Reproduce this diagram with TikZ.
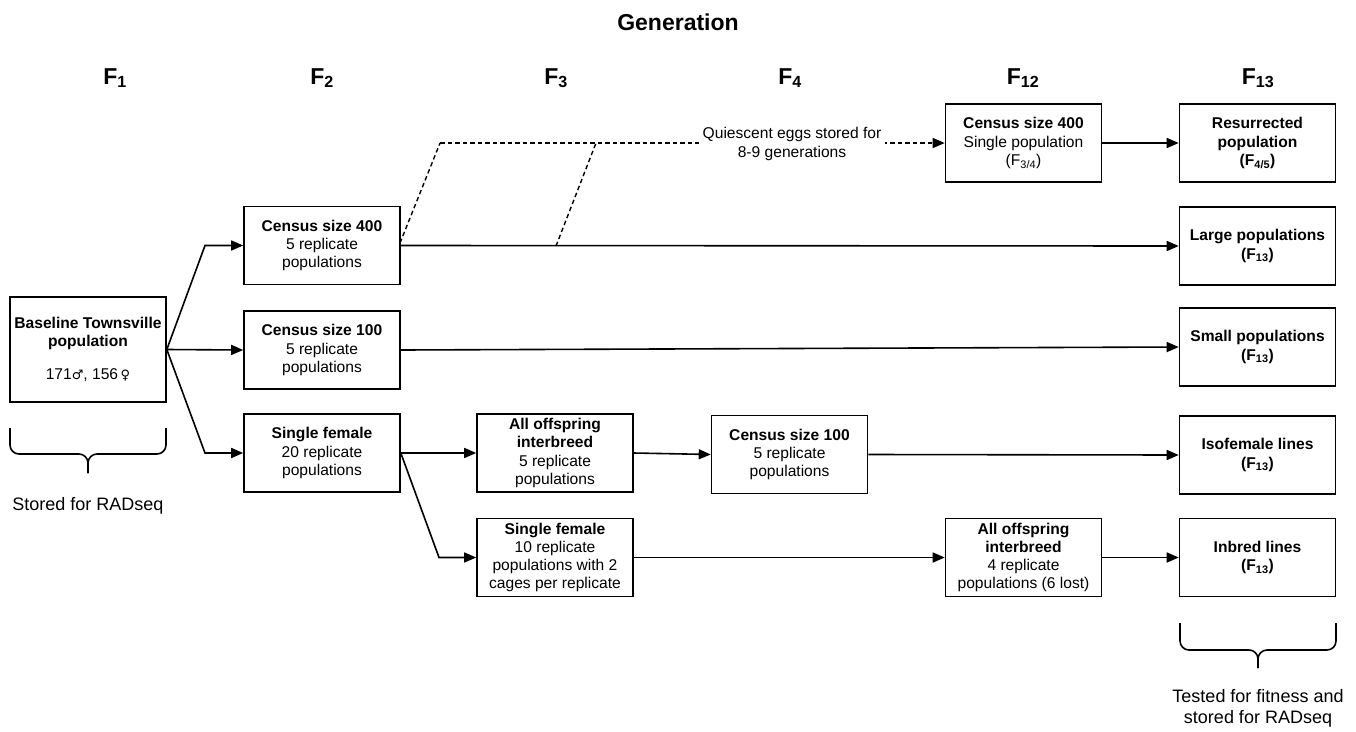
\documentclass[tikz,border=0pt]{standalone}
\usepackage{fontspec}
\setmainfont{Liberation Sans}
\newfontfamily\symfont{DejaVu Sans}
\usetikzlibrary{arrows.meta}
\newcommand\sbs[1]{\textsubscript{#1}}
\newcommand\male{{\symfont\fontsize{13}{13}\selectfont ♂}}
\newcommand\female{{\symfont\fontsize{13}{13}\selectfont ♀}}
\begin{document}
\begin{tikzpicture}[x=1pt,y=-1pt,
  bx/.style={draw, line width=1.6pt, minimum width=156pt, minimum height=78pt, align=center, inner sep=0pt, font=\fontsize{15.6}{18.3}\selectfont},
  hdr/.style={anchor=base, inner sep=0pt, font=\fontsize{23}{26}\selectfont\bfseries},
  arr/.style={line width=1.6pt, -{Triangle[length=12pt,width=10pt]}},
  dsh/.style={line width=1.4pt, dash pattern=on 4.5pt off 3pt},
  brc/.style={line width=1.6pt, rounded corners=9pt},
  note/.style={align=center, font=\fontsize{15.6}{19}\selectfont},
  bignote/.style={align=center, font=\fontsize{18}{21}\selectfont}]
\useasboundingbox (0,0) rectangle (1356,731);

% title and headers
\node[hdr] (title) at (678,30) {Generation};
\node[hdr] (h1) at (115,84) {F\sbs{1}};
\node[hdr] (h2) at (322,84) {F\sbs{2}};
\node[hdr] (h3) at (556,84) {F\sbs{3}};
\node[hdr] (h4) at (790,84) {F\sbs{4}};
\node[hdr] (h12) at (1023,84) {F\sbs{12}};
\node[hdr] (h13) at (1258,84) {F\sbs{13}};

% boxes
\node[bx, minimum height=105pt] (base) at (88,349.5) {\textbf{Baseline Townsville}\\\textbf{population}\\[15pt]171\male, 156\,\female};
\node[bx] (c400) at (322,245.5) {\textbf{Census size 400}\\5 replicate\\populations};
\node[bx] (c100) at (322,350) {\textbf{Census size 100}\\5 replicate\\populations};
\node[bx] (sf20) at (322,453) {\textbf{Single female}\\20 replicate\\populations};
\node[bx] (aoi5) at (555,453) {\textbf{All offspring}\\\textbf{interbreed}\\5 replicate\\populations};
\node[bx] (sf10) at (555,557.5) {\textbf{Single female}\\10 replicate\\populations with 2\\cages per replicate};
\node[bx] (c100b) at (789.5,454.5) {\textbf{Census size 100}\\5 replicate\\populations};
\node[bx] (c400b) at (1023.5,143) {\textbf{Census size 400}\\Single population\\(F\sbs{3/4})};
\node[bx] (aoi4) at (1023.5,557.5) {\textbf{All offspring}\\\textbf{interbreed}\\4 replicate\\populations (6 lost)};
\node[bx] (res) at (1257.5,143) {\textbf{Resurrected}\\\textbf{population}\\\textbf{(F\sbs{4/5})}};
\node[bx] (large) at (1257.5,246) {\textbf{Large populations}\\\textbf{(F\sbs{13})}};
\node[bx] (small) at (1257.5,347) {\textbf{Small populations}\\\textbf{(F\sbs{13})}};
\node[bx] (iso) at (1257.5,455) {\textbf{Isofemale lines}\\\textbf{(F\sbs{13})}};
\node[bx] (inb) at (1257.5,557.5) {\textbf{Inbred lines}\\\textbf{(F\sbs{13})}};

% bend points
\coordinate (bu) at (205,245.5);
\coordinate (bd) at (205,453);
\coordinate (bs) at (439,557.5);
\coordinate (d1s) at (400,243);
\coordinate (d1t) at (440,143);
\coordinate (d2s) at (556,246);
\coordinate (d2t) at (596,143);

% connectors
\draw[arr] (base.east) -- (bu) -- (c400.west);
\draw[arr] (base.east) -- (c100.west);
\draw[arr] (base.east) -- (bd) -- (sf20.west);
\draw[arr] (c400.east) -- (large.west);
\draw[arr] (c100.east) -- (small.west);
\draw[arr] (sf20.east) -- (aoi5.west);
\draw[arr] (sf20.east) -- (bs) -- (sf10.west);
\draw[arr] (aoi5.east) -- (c100b.west);
\draw[arr] (c100b.east) -- (iso.west);
\draw[arr] (sf10.east) -- (aoi4.west);
\draw[arr] (aoi4.east) -- (inb.west);
\draw[arr] (c400b.east) -- (res.west);

% dashed storage path
\draw[dsh] (d1s) -- (d1t);
\draw[dsh] (d2s) -- (d2t);
\draw[dsh, -{Triangle[length=12pt,width=10pt]}] (d1t) -- (c400b.west);
\node[note, fill=white, inner sep=4pt] (q) at (792,144) {Quiescent eggs stored for\\8-9 generations};

% braces
\coordinate (bl) at (10,428);
\coordinate (br) at (166,428);
\coordinate (bm) at (88,454);
\coordinate (bt) at (88,473);
\draw[brc] (bl) |- (bm) -- (bt);
\draw[brc] (br) |- (bm) -- (bt);
\node[bignote] (st1) at (88,506) {Stored for RADseq};

\coordinate (cl) at (1180,623);
\coordinate (cr) at (1336,623);
\coordinate (cm) at (1258,650);
\coordinate (ct) at (1258,668);
\draw[brc] (cl) |- (cm) -- (ct);
\draw[brc] (cr) |- (cm) -- (ct);
\node[bignote] (st2) at (1258,708) {Tested for fitness and\\stored for RADseq};
\end{tikzpicture}
\end{document}
